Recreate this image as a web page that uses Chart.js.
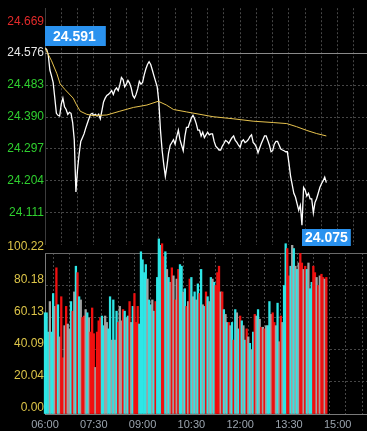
<!doctype html>
<html lang="zh">
  <head>
    <meta charset="utf-8">
    <title>分时走势</title>
    <style>
      * {
        margin: 0;
        padding: 0;
      }
      body {
        background: #000;
        width: 367px;
        height: 431px;
        overflow: hidden;
        position: relative;
      }
      .priceBox {
        position: absolute;
        left: 0;
        top: 0;
        width: 367px;
        height: 253px;
      }
      .volBox {
        position: absolute;
        left: 0;
        top: 226px;
        width: 367px;
        height: 205px;
      }
    </style>
  </head>
  <body>
    <div class="priceBox"><canvas id="priceChart"></canvas></div>
    <div class="volBox"><canvas id="volChart"></canvas></div>
    <script src="https://cdn.jsdelivr.net/npm/chart.js/dist/chart.umd.min.js"></script>
    <script>

    // data, one point every 3 minutes from 06:00
    const stepMinutes = 3;
    const priceVals = [
      24.591,24.587,24.571,24.527,24.510,24.491,24.447,24.401,24.395,24.393,
      24.428,24.445,24.420,24.412,24.398,24.404,24.401,24.374,24.324,24.172,
      24.237,24.283,24.319,24.330,24.341,24.357,24.371,24.385,24.398,24.401,
      24.395,24.398,24.393,24.398,24.385,24.409,24.434,24.445,24.453,24.456,
      24.461,24.467,24.456,24.469,24.475,24.467,24.483,24.505,24.499,24.478,
      24.486,24.497,24.489,24.475,24.453,24.445,24.456,24.472,24.494,24.486,
      24.491,24.513,24.530,24.543,24.551,24.543,24.527,24.510,24.494,24.478,
      24.434,24.352,24.294,24.253,24.217,24.248,24.286,24.308,24.316,24.324,
      24.311,24.333,24.352,24.324,24.308,24.292,24.333,24.360,24.360,24.374,
      24.387,24.395,24.385,24.371,24.352,24.352,24.335,24.346,24.330,24.338,
      24.346,24.338,24.341,24.341,24.319,24.305,24.300,24.294,24.294,24.305,
      24.313,24.322,24.319,24.313,24.322,24.330,24.335,24.322,24.316,24.308,
      24.302,24.319,24.324,24.316,24.319,24.324,24.333,24.338,24.316,24.311,
      24.302,24.286,24.300,24.313,24.324,24.335,24.335,24.322,24.308,24.289,
      24.292,24.311,24.319,24.319,24.308,24.297,24.294,24.292,24.289,24.289,
      24.256,24.218,24.193,24.168,24.157,24.138,24.119,24.133,24.075,24.185,
      24.177,24.160,24.168,24.152,24.152,24.111,24.141,24.152,24.168,24.185,
      24.196,24.204,24.215,24.199
    ];
    // average price line (minutes after 06:00)
    const avgTimes = [0, 12, 22, 28, 37, 52, 58, 65, 77, 89, 114, 138, 163, 188, 209,
      224, 237, 261, 310, 347, 384, 421, 446, 464, 483, 501, 519];
    const avgVals = [24.591, 24.554, 24.516, 24.486, 24.470, 24.445, 24.426, 24.407, 24.398,
      24.394, 24.396, 24.407, 24.418, 24.425, 24.436, 24.425, 24.412, 24.405, 24.391,
      24.385, 24.378, 24.374, 24.371, 24.362, 24.351, 24.342, 24.335];
    const volVals = [
      63,63,51,70,51,75,67,91,68,48,
      73,35,55,67,56,53,70,64,76,92,
      88,73,71,60,61,65,63,60,51,66,
      50,29,51,58,60,61,55,61,57,53,
      73,46,71,46,64,57,67,58,65,64,
      60,61,70,57,67,75,57,67,56,101,
      96,88,93,84,71,68,71,64,70,85,
      109,105,106,98,101,90,85,82,91,86,
      71,84,90,93,92,76,78,67,70,84,
      85,73,76,71,81,75,90,68,67,76,
      73,70,85,84,82,80,88,92,76,76,
      65,62,57,57,55,57,46,65,63,53,
      61,58,55,46,53,48,44,40,51,62,
      61,65,59,54,54,53,55,55,70,62,
      63,57,55,69,45,61,57,80,106,103,
      86,92,105,103,92,90,94,100,94,90,
      92,90,94,78,82,92,88,85,80,86,
      87,85,84,85
    ];
    // u = up, d = down, n = unchanged
    const volSide = (
      'dddnddnudn' + 'uununndund' + 'udnuundnuu' + 'unuuuddnnd' + 'dndndunnud' +
      'ndunduuudd' + 'dddnddndud' + 'dduudndnun' + 'unuddndunu' + 'dndndudndu' +
      'dndnduuunu' + 'dndundudnd' + 'udndundndu' + 'ndnununddn' + 'uundnunddu' +
      'udndndnuun' + 'udndduunun' + 'uunu'
    ).split('');

    const prevClose = 24.576;
    const priceTicks = [24.018, 24.111, 24.204, 24.297, 24.390, 24.483, 24.576, 24.669];
    const volTicks = [0, 20.04, 40.09, 60.13, 80.18, 100.22];
    const timeLabels = ['06:00', '07:30', '09:00', '10:30', '12:00', '13:30', '15:00'];

    // setup
    const axisMinutes = 594;
    const gridMinutes = [];
    for (let m = 0; m <= axisMinutes; m += 30) gridMinutes.push(m);

    const sideColors = { u: '#f01010', d: '#2ee6e6', n: '#a2a2a2' };
    const gridColor = '#464646';
    const fontFamily = '"Liberation Sans", Arial, sans-serif';
    Chart.defaults.font.family = fontFamily;

    const priceMarks = {
      id: 'priceMarks',
      beforeDatasetsDraw(chart) {
        const { ctx, chartArea, scales: { y } } = chart;
        const py = Math.round(y.getPixelForValue(prevClose)) + 0.5;
        ctx.save();
        ctx.strokeStyle = '#8a8a8a';
        ctx.lineWidth = 1;
        ctx.beginPath();
        ctx.moveTo(chartArea.left, py);
        ctx.lineTo(chartArea.right, py);
        ctx.stroke();
        ctx.restore();
      },
      afterDatasetsDraw(chart) {
        const { ctx, scales: { x, y } } = chart;
        const hi = priceVals.indexOf(Math.max(...priceVals));
        const lo = priceVals.indexOf(Math.min(...priceVals));
        ctx.save();
        ctx.font = 'bold 14px ' + fontFamily;
        ctx.textBaseline = 'middle';
        function tag(i, above, padL, padR, h) {
          const txt = priceVals[i].toFixed(3);
          const px = Math.round(x.getPixelForValue(i * stepMinutes));
          const py = y.getPixelForValue(priceVals[i]);
          const w = ctx.measureText(txt).width + padL + padR;
          const top = Math.round(above ? py - h - 2 : py + 4);
          ctx.fillStyle = '#2a92ef';
          ctx.fillRect(px, top, w, h);
          ctx.fillStyle = '#ffffff';
          ctx.fillText(txt, px + padL, top + h / 2 + 1);
        }
        tag(hi, true, 8, 10, 20);
        tag(lo, false, 3, 3, 17);
        ctx.restore();
      }
    };

    const volTopLine = {
      id: 'volTopLine',
      beforeDatasetsDraw(chart) {
        const { ctx, chartArea } = chart;
        ctx.save();
        ctx.strokeStyle = '#6a6a6a';
        ctx.lineWidth = 1;
        ctx.beginPath();
        ctx.moveTo(chartArea.left, Math.round(chartArea.top) + 0.5);
        ctx.lineTo(chartArea.right, Math.round(chartArea.top) + 0.5);
        ctx.stroke();
        ctx.restore();
      }
    };

    // price chart
    const priceChart = new Chart(document.getElementById('priceChart'), {
      type: 'line',
      data: {
        datasets: [{
          label: '均价',
          data: avgTimes.map((t, i) => ({ x: t, y: avgVals[i] })),
          borderColor: '#e6c24e',
          borderWidth: 1,
          pointRadius: 0,
          order: 0
        }, {
          label: '价格',
          data: priceVals.map((v, i) => ({ x: i * stepMinutes, y: v })),
          borderColor: '#ffffff',
          borderWidth: 1.3,
          pointRadius: 0,
          order: 1
        }]
      },
      options: {
        responsive: true,
        maintainAspectRatio: false,
        animation: false,
        layout: { padding: 0 },
        plugins: {
          legend: { display: false },
          tooltip: { enabled: false }
        },
        scales: {
          x: {
            type: 'linear',
            min: 0,
            max: axisMinutes,
            afterBuildTicks: s => { s.ticks = gridMinutes.map(v => ({ value: v })); },
            ticks: { display: false },
            grid: { color: gridColor, drawTicks: false },
            border: { display: false, dash: [2, 2] }
          },
          y: {
            min: 24.018,
            max: 24.707,
            afterBuildTicks: s => { s.ticks = priceTicks.map(v => ({ value: v })); },
            afterFit: s => { s.width = 45; },
            ticks: {
              autoSkip: false,
              padding: 1,
              font: { size: 12 },
              color: ctx => ctx.tick.value > prevClose ? '#e32a2a' : (ctx.tick.value === prevClose ? '#e6e6e6' : '#2fcf2f'),
              callback: v => v === priceTicks[0] ? '' : v.toFixed(3)
            },
            grid: {
              drawTicks: false,
              color: ctx => {
                const v = ctx.tick.value;
                return (v === prevClose || v === priceTicks[0] || v === priceTicks[priceTicks.length - 1]) ? 'transparent' : gridColor;
              }
            },
            border: { color: '#3c3c3c', dash: [2, 2] }
          }
        }
      },
      plugins: [priceMarks]
    });

    // volume chart
    const volChart = new Chart(document.getElementById('volChart'), {
      type: 'bar',
      data: {
        datasets: [{
          label: '成交量',
          data: volVals.map((v, i) => ({ x: i * stepMinutes, y: v })),
          backgroundColor: volSide.map(s => sideColors[s]),
          borderWidth: 0,
          barPercentage: 1,
          categoryPercentage: 1,
          clip: false
        }]
      },
      options: {
        responsive: true,
        maintainAspectRatio: false,
        animation: false,
        layout: { padding: { top: 27 } },
        plugins: {
          legend: { display: false },
          tooltip: { enabled: false }
        },
        scales: {
          x: {
            type: 'linear',
            offset: false,
            min: 0,
            max: axisMinutes,
            afterBuildTicks: s => { s.ticks = gridMinutes.map(v => ({ value: v })); },
            afterFit: s => { s.height = 17; },
            ticks: {
              autoSkip: false,
              maxRotation: 0,
              padding: 4,
              color: '#9ba4ae',
              font: { size: 11 },
              callback: v => v % 90 === 0 ? timeLabels[v / 90] : ''
            },
            grid: { color: gridColor, drawTicks: false },
            border: { color: '#7a7a7a', dash: [2, 2] }
          },
          y: {
            min: 0,
            max: volTicks[volTicks.length - 1],
            afterBuildTicks: s => { s.ticks = volTicks.map(v => ({ value: v })); },
            afterFit: s => { s.width = 45; },
            ticks: {
              autoSkip: false,
              padding: 1,
              labelOffset: -6,
              font: { size: 12 },
              color: '#dcc448',
              callback: v => v.toFixed(2)
            },
            grid: {
              drawTicks: false,
              color: ctx => (ctx.tick.value === 0 || ctx.tick.value === volTicks[volTicks.length - 1]) ? 'transparent' : gridColor
            },
            border: { color: '#7a7a7a', dash: [2, 2] }
          }
        }
      },
      plugins: [volTopLine]
    });
    </script>
  </body>
</html>
